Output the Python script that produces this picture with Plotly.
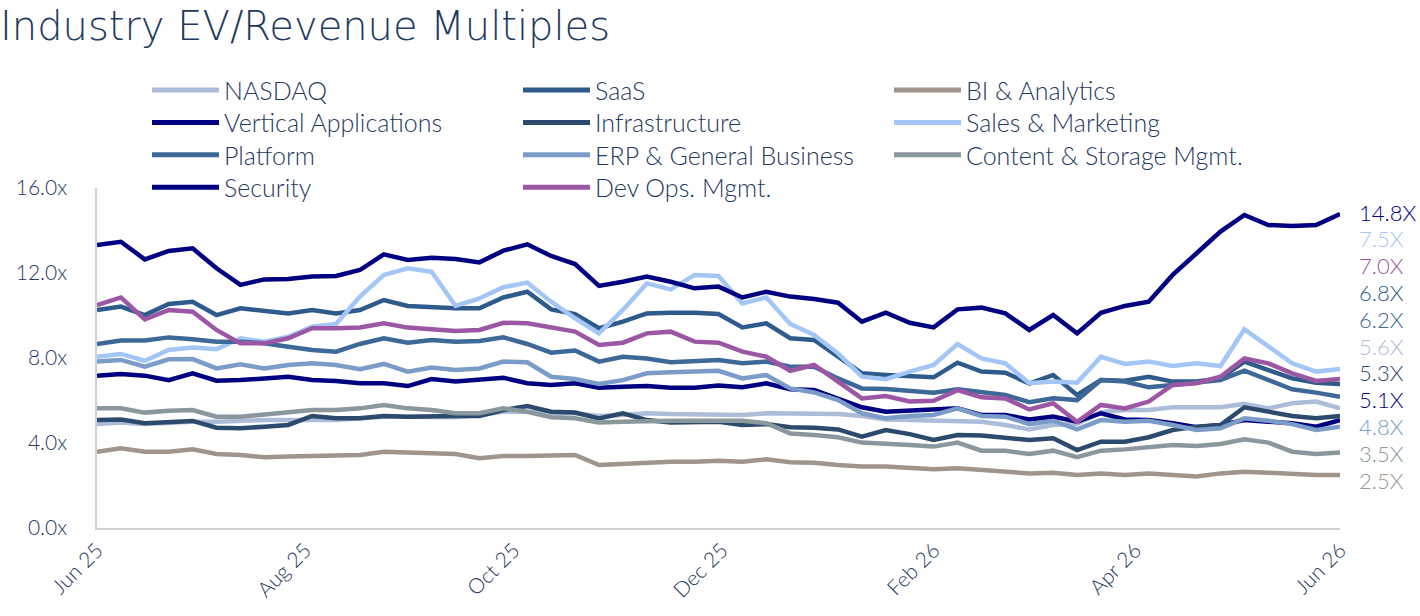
import pandas as pd
import plotly.graph_objects as go

dates = pd.date_range("2025-06-20", periods=53, freq="7D")

series_names = ["NASDAQ", "SaaS", "BI & Analytics", "Vertical Applications", "Infrastructure",
                "Sales & Marketing", "Platform", "ERP & General Business",
                "Content & Storage Mgmt.", "Security", "Dev Ops. Mgmt."]

nasdaq = [4.90, 4.96, 4.90, 4.96, 5.00, 5.00, 5.05, 5.08, 5.08, 5.08, 5.08, 5.16, 5.24, 5.24,
          5.24, 5.21, 5.32, 5.47, 5.47, 5.40, 5.40, 5.27, 5.32, 5.40, 5.36, 5.36, 5.36,
          5.32, 5.40, 5.40, 5.40, 5.36, 5.27, 5.11, 5.08, 5.05, 5.05, 5.00, 4.85, 4.64,
          4.85, 4.90, 5.45, 5.55, 5.55, 5.68, 5.68, 5.68, 5.84, 5.63, 5.87, 5.95, 5.63]
saas = [10.26, 10.42, 10.02, 10.54, 10.65, 10.02, 10.34, 10.21, 10.10, 10.26, 10.10, 10.26, 10.73, 10.45,
        10.38, 10.34, 10.34, 10.85, 11.12, 10.29, 10.07, 9.40, 9.71, 10.10, 10.13, 10.13, 10.07,
        9.44, 9.63, 8.93, 8.85, 8.09, 7.28, 7.20, 7.12, 7.09, 7.78, 7.36, 7.31, 6.80,
        7.20, 6.26, 6.96, 6.93, 7.12, 6.89, 6.89, 7.04, 7.83, 7.44, 7.04, 6.84, 6.78]
bi = [3.59, 3.75, 3.59, 3.59, 3.70, 3.48, 3.44, 3.33, 3.36, 3.39, 3.39, 3.44, 3.59, 3.55,
      3.51, 3.48, 3.28, 3.39, 3.39, 3.39, 3.44, 2.96, 3.01, 3.09, 3.12, 3.12, 3.17,
      3.12, 3.23, 3.09, 3.07, 2.96, 2.89, 2.89, 2.85, 2.76, 2.81, 2.73, 2.70, 2.57,
      2.60, 2.49, 2.57, 2.49, 2.57, 2.49, 2.42, 2.57, 2.65, 2.60, 2.54, 2.49, 2.49]
vertical = [7.17, 7.25, 7.17, 6.96, 7.28, 6.93, 6.96, 7.04, 7.12, 6.96, 6.92, 6.81, 6.81, 6.68,
            7.01, 6.89, 6.96, 7.07, 6.81, 6.73, 6.81, 6.60, 6.65, 6.68, 6.60, 6.60, 6.70,
            6.62, 6.81, 6.53, 6.49, 6.10, 5.68, 5.47, 5.52, 5.58, 5.63, 5.32, 5.32, 5.11,
            5.24, 5.00, 5.40, 5.11, 5.08, 4.93, 4.74, 4.85, 5.08, 5.00, 4.93, 4.77, 5.08]
infra = [5.08, 5.11, 4.93, 5.00, 5.04, 4.72, 4.69, 4.77, 4.85, 5.27, 5.16, 5.16, 5.27, 5.24,
         5.27, 5.27, 5.27, 5.55, 5.74, 5.47, 5.43, 5.16, 5.40, 5.08, 4.96, 5.00, 5.00,
         4.85, 4.89, 4.74, 4.72, 4.64, 4.30, 4.61, 4.42, 4.14, 4.38, 4.35, 4.27, 4.14,
         4.22, 3.67, 4.06, 4.06, 4.27, 4.61, 4.77, 4.85, 5.68, 5.47, 5.27, 5.16, 5.27]
sales = [8.06, 8.19, 7.87, 8.38, 8.49, 8.41, 8.93, 8.77, 9.00, 9.47, 9.60, 10.89, 11.91, 12.22,
         12.06, 10.45, 10.81, 11.33, 11.55, 10.65, 9.87, 9.16, 10.26, 11.51, 11.23, 11.91, 11.86,
         10.57, 10.85, 9.60, 9.08, 8.22, 7.12, 7.00, 7.36, 7.67, 8.66, 7.98, 7.75, 6.81,
         6.89, 6.84, 8.06, 7.72, 7.83, 7.62, 7.75, 7.62, 9.35, 8.53, 7.75, 7.36, 7.48]
platform = [8.66, 8.82, 8.82, 8.97, 8.88, 8.77, 8.77, 8.69, 8.53, 8.38, 8.30, 8.66, 8.93, 8.72,
            8.85, 8.77, 8.80, 8.97, 8.66, 8.25, 8.35, 7.83, 8.06, 7.98, 7.80, 7.87, 7.91,
            7.75, 7.83, 7.59, 7.59, 7.04, 6.57, 6.54, 6.46, 6.37, 6.53, 6.42, 6.26, 5.92,
            6.10, 6.02, 6.96, 6.89, 6.62, 6.73, 6.84, 6.96, 7.40, 6.96, 6.53, 6.37, 6.18]
erp = [7.83, 7.91, 7.59, 7.94, 7.95, 7.51, 7.70, 7.51, 7.67, 7.75, 7.67, 7.47, 7.72, 7.36,
       7.55, 7.44, 7.51, 7.83, 7.80, 7.12, 7.01, 6.78, 6.96, 7.28, 7.33, 7.36, 7.40,
       7.04, 7.20, 6.57, 6.38, 6.02, 5.40, 5.16, 5.27, 5.32, 5.63, 5.27, 5.24, 4.89,
       5.05, 4.64, 5.08, 5.00, 5.05, 4.85, 4.61, 4.69, 5.16, 5.05, 4.89, 4.61, 4.77]
content = [5.63, 5.63, 5.43, 5.52, 5.55, 5.24, 5.24, 5.36, 5.47, 5.55, 5.55, 5.63, 5.79, 5.63,
           5.55, 5.40, 5.40, 5.63, 5.47, 5.21, 5.16, 4.96, 5.00, 5.05, 5.05, 5.05, 5.05,
           5.05, 4.93, 4.45, 4.38, 4.27, 4.02, 3.98, 3.91, 3.83, 4.02, 3.64, 3.64, 3.48,
           3.64, 3.33, 3.64, 3.70, 3.80, 3.91, 3.86, 3.95, 4.17, 4.02, 3.59, 3.48, 3.55]
security = [13.32, 13.47, 12.64, 13.04, 13.16, 12.22, 11.44, 11.70, 11.72, 11.83, 11.86, 12.14, 12.88, 12.61,
            12.72, 12.66, 12.50, 13.05, 13.35, 12.80, 12.42, 11.39, 11.59, 11.83, 11.59, 11.28, 11.36,
            10.85, 11.12, 10.89, 10.78, 10.60, 9.71, 10.13, 9.66, 9.44, 10.29, 10.37, 10.10, 9.32,
            10.02, 9.16, 10.13, 10.45, 10.65, 11.91, 12.93, 13.95, 14.73, 14.26, 14.21, 14.26, 14.78]
devops = [10.49, 10.85, 9.82, 10.26, 10.18, 9.32, 8.69, 8.69, 8.93, 9.40, 9.40, 9.44, 9.63, 9.43,
          9.35, 9.27, 9.32, 9.66, 9.63, 9.43, 9.24, 8.61, 8.72, 9.16, 9.24, 8.77, 8.72,
          8.30, 8.06, 7.40, 7.67, 6.89, 6.10, 6.21, 5.95, 5.99, 6.49, 6.15, 6.10, 5.58,
          5.87, 5.00, 5.79, 5.63, 5.95, 6.73, 6.81, 7.12, 7.98, 7.75, 7.28, 6.92, 7.01]

series_values = [nasdaq, saas, bi, vertical, infra, sales, platform, erp, content, security, devops]
series_colors = ["#ADBCD9", "#2F5B8C", "#A0958B", "#000080", "#2C4A6E", "#A4C6F7",
                 "#3E6898", "#7B9BC9", "#8A979D", "#000080", "#9B57A3"]

x_tick_vals = ["2025-06-20", "2025-08-20", "2025-10-20", "2025-12-20", "2026-02-20", "2026-04-20", "2026-06-19"]
x_tick_text = ["Jun 25", "Aug 25", "Oct 25", "Dec 25", "Feb 26", "Apr 26", "Jun 26"]
y_tick_vals = [0, 4, 8, 12, 16]
y_tick_text = ["0.0x", "4.0x", "8.0x", "12.0x", "16.0x"]

TEXT = "#1F3A60"
FONT = "Lato"

fig = go.Figure()
for name, vals, col in zip(series_names, series_values, series_colors):
    fig.add_trace(go.Scatter(x=dates, y=vals, name=name, mode="lines",
                             line=dict(color=col, width=4.5), showlegend=False))

# plot area geometry (pixels) for paper conversions
L, R, T, B = 97, 1340, 188, 528
W, H = R - L, B - T

def px(x):
    return (x - L) / W

def py(y):
    return (B - y) / H

shapes = []
annotations = []
# custom legend, 3 columns, row-major
for k, (name, col) in enumerate(zip(series_names, series_colors)):
    r, c = divmod(k, 3)
    x0 = 152 + c * 371
    yc = 90 + r * 32.4
    shapes.append(dict(type="line", xref="paper", yref="paper",
                       x0=px(x0), x1=px(x0 + 67), y0=py(yc), y1=py(yc),
                       line=dict(color=col, width=5)))
    annotations.append(dict(xref="paper", yref="paper", x=px(x0 + 70), y=py(yc),
                            xanchor="left", yanchor="middle", showarrow=False,
                            text=name, font=dict(family=FONT, size=25, color=TEXT, weight=300)))

# end-value labels sorted by last value
order = sorted(range(len(series_values)), key=lambda i: -series_values[i][-1])
for j, i in enumerate(order):
    annotations.append(dict(xref="paper", yref="paper", x=px(1357), y=py(212 + j * 26.8),
                            xanchor="left", yanchor="middle", showarrow=False,
                            text=f"{series_values[i][-1]:.1f}X",
                            font=dict(family=FONT, size=22, color=series_colors[i], weight=300)))

fig.update_layout(
    width=1420, height=616,
    margin=dict(l=L, r=1420 - R, t=T, b=616 - B, autoexpand=False),
    paper_bgcolor="white", plot_bgcolor="white",
    title=dict(text="Industry EV/Revenue Multiples", x=0.0, xref="container", xanchor="left",
               y=0.98, yref="container", yanchor="top",
               font=dict(family="DejaVu Sans", size=40, color=TEXT, weight=200)),
    shapes=shapes, annotations=annotations,
    xaxis=dict(type="date", range=[dates[0], dates[-1]], tickvals=x_tick_vals, ticktext=x_tick_text,
               tickangle=-45, showgrid=False, zeroline=False, showline=True, linecolor="#D0D0D0",
               linewidth=1.5, ticks="", tickfont=dict(family=FONT, size=21, color=TEXT, weight=300)),
    yaxis=dict(range=[0, 16], tickvals=y_tick_vals, ticktext=y_tick_text, showgrid=False,
               zeroline=False, showline=True, linecolor="#D0D0D0", linewidth=1.5, ticks="",
               ticklabelstandoff=24, tickfont=dict(family=FONT, size=21, color=TEXT, weight=300)),
)

fig.write_html("out.html")
